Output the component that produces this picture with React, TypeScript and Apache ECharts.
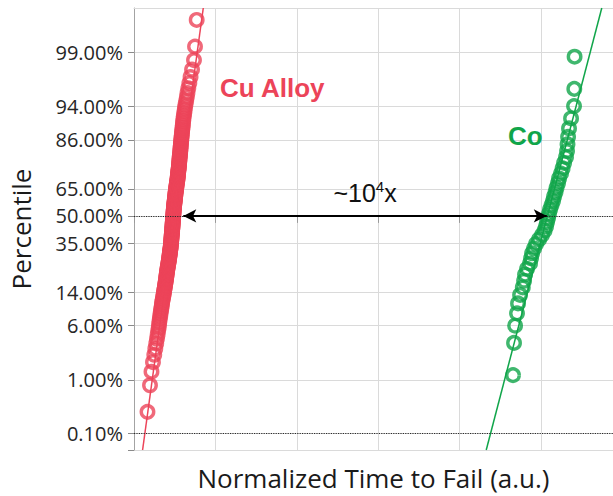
import React, { useEffect, useRef } from "react";
import * as echarts from "echarts";

// Percentile gridlines on the normal-probability axis (in %)
const percentileTicks = [0.1, 1, 6, 14, 35, 50, 65, 86, 94, 99];
// Percentiles marked with dotted reference lines (in %)
const referencePercentiles = [50, 0.1];

// log10(normalized time to fail), sorted ascending, Cu alloy samples
const cuAlloyLogTimes = [
  0.145, 0.172, 0.188, 0.204, 0.218, 0.229, 0.239, 0.247, 0.254, 0.260,
  0.266, 0.270, 0.274, 0.278, 0.283, 0.286, 0.290, 0.294, 0.298, 0.301,
  0.303, 0.308, 0.312, 0.315, 0.318, 0.322, 0.324, 0.327, 0.331, 0.333,
  0.335, 0.338, 0.341, 0.343, 0.345, 0.347, 0.349, 0.351, 0.353, 0.355,
  0.357, 0.359, 0.361, 0.363, 0.366, 0.368, 0.370, 0.372, 0.374, 0.376,
  0.377, 0.380, 0.381, 0.383, 0.384, 0.386, 0.387, 0.389, 0.390, 0.392,
  0.394, 0.395, 0.396, 0.397, 0.398, 0.399, 0.400, 0.401, 0.402, 0.403,
  0.404, 0.405, 0.405, 0.406, 0.408, 0.409, 0.410, 0.410, 0.411, 0.412,
  0.413, 0.413, 0.414, 0.415, 0.416, 0.416, 0.417, 0.418, 0.418, 0.419,
  0.420, 0.422, 0.422, 0.423, 0.424, 0.425, 0.425, 0.426, 0.427, 0.428,
  0.429, 0.430, 0.431, 0.432, 0.433, 0.434, 0.435, 0.437, 0.438, 0.439,
  0.440, 0.441, 0.443, 0.444, 0.445, 0.446, 0.447, 0.448, 0.451, 0.452,
  0.453, 0.455, 0.456, 0.458, 0.459, 0.461, 0.462, 0.465, 0.466, 0.468,
  0.469, 0.470, 0.472, 0.473, 0.474, 0.475, 0.477, 0.478, 0.480, 0.482,
  0.483, 0.484, 0.485, 0.486, 0.487, 0.489, 0.490, 0.491, 0.492, 0.495,
  0.496, 0.497, 0.499, 0.500, 0.501, 0.503, 0.504, 0.505, 0.508, 0.509,
  0.511, 0.513, 0.515, 0.517, 0.519, 0.522, 0.524, 0.526, 0.529, 0.532,
  0.535, 0.540, 0.544, 0.548, 0.554, 0.561, 0.568, 0.575, 0.584, 0.595,
  0.608, 0.624, 0.645, 0.656, 0.674,
];

// log10(normalized time to fail), sorted ascending, Co samples
const coLogTimes = [
  4.075, 4.086, 4.097, 4.118, 4.129, 4.151, 4.180, 4.194, 4.204, 4.226,
  4.258, 4.269, 4.280, 4.301, 4.323, 4.355, 4.387, 4.414, 4.430, 4.441,
  4.452, 4.462, 4.473, 4.489, 4.505, 4.516, 4.532, 4.543, 4.559, 4.570,
  4.591, 4.608, 4.624, 4.645, 4.656, 4.661, 4.667, 4.677, 4.699, 4.731,
  4.734, 4.737,
];

// Lognormal fits: median and sigma, both in log10 units
const cuAlloyFit = { median: 0.438, sigma: 0.104 };
const coFit = { median: 4.445, sigma: 0.198 };

// Ends of the double arrow drawn along the 50% line (log10 units)
const spanArrow = { from: 0.53, to: 4.438 };

// Axis extents: x in log10 time, y in standard normal quantiles
const xRange = { min: 0, max: 5.15, interval: 0.875 };
const zRange = { min: -3.323, max: 2.951 };

const RED = "#EC4459";
const GREEN = "#10A54A";
const GRID = "#dadada";

// Acklam's rational approximation of the inverse standard normal CDF
function normInv(p: number): number {
  const a = [-39.69683028665376, 220.9460984245205, -275.9285104469687, 138.357751867269, -30.66479806614716, 2.506628277459239];
  const b = [-54.47609879822406, 161.5858368580409, -155.6989798598866, 66.80131188771972, -13.28068155288572];
  const c = [-0.007784894002430293, -0.3223964580411365, -2.400758277161838, -2.549732539343734, 4.374664141464968, 2.938163982698783];
  const d = [0.007784695709041462, 0.3224671290700398, 2.445134137142996, 3.754408661907416];
  const pl = 0.02425;
  if (p < pl) {
    const q = Math.sqrt(-2 * Math.log(p));
    return (((((c[0] * q + c[1]) * q + c[2]) * q + c[3]) * q + c[4]) * q + c[5]) /
      ((((d[0] * q + d[1]) * q + d[2]) * q + d[3]) * q + 1);
  }
  if (p <= 1 - pl) {
    const q = p - 0.5;
    const r = q * q;
    return ((((((a[0] * r + a[1]) * r + a[2]) * r + a[3]) * r + a[4]) * r + a[5]) * q) /
      (((((b[0] * r + b[1]) * r + b[2]) * r + b[3]) * r + b[4]) * r + 1);
  }
  const q = Math.sqrt(-2 * Math.log(1 - p));
  return -(((((c[0] * q + c[1]) * q + c[2]) * q + c[3]) * q + c[4]) * q + c[5]) /
    ((((d[0] * q + d[1]) * q + d[2]) * q + d[3]) * q + 1);
}

// Hazen plotting positions: each sorted sample at its median-rank quantile
function probabilityPoints(sortedLogTimes: number[]): number[][] {
  const n = sortedLogTimes.length;
  return sortedLogTimes.map((t, i) => [t, normInv((i + 0.5) / n)]);
}

function fitLine(fit: { median: number; sigma: number }): number[][] {
  return [zRange.min, zRange.max].map((z) => [fit.median + fit.sigma * z, z]);
}

const tickZ = percentileTicks.map((p) => normInv(p / 100));

function percentLabel(z: number): string {
  let best = 0;
  tickZ.forEach((tz, i) => {
    if (Math.abs(tz - z) < Math.abs(tickZ[best] - z)) best = i;
  });
  return percentileTicks[best].toFixed(2) + "%";
}

const ringStyle = (color: string) => ({
  color: "rgba(0,0,0,0)",
  borderColor: color,
  borderWidth: 3.4,
});

export default function App() {
  const ref = useRef<HTMLDivElement>(null);

  useEffect(() => {
    if (!ref.current) return;
    const chart = echarts.init(ref.current, null, { renderer: "svg" });
    const uiFont = "'Open Sans', 'Noto Sans', sans-serif";
    const markFont = "'Liberation Sans', Arial, sans-serif";

    chart.setOption({
      animation: false,
      backgroundColor: "#ffffff",
      grid: { left: 134, top: 8, right: 0, bottom: 46, outerBoundsMode: "none", containLabel: false },
      xAxis: [
        {
          type: "value",
          min: xRange.min,
          max: xRange.max,
          interval: xRange.interval,
          name: "Normalized Time to Fail (a.u.)",
          nameLocation: "middle",
          nameGap: 14,
          nameTextStyle: { fontSize: 26, lineHeight: 27, color: "#1a1a1a", fontFamily: uiFont },
          axisLine: { show: true, lineStyle: { color: GRID, width: 1 } },
          axisTick: { show: true, length: 7, lineStyle: { color: "#9a9a9a", width: 1 } },
          axisLabel: { show: false },
          splitLine: { show: true, lineStyle: { color: GRID, width: 1 } },
        },
        {
          type: "value",
          position: "top",
          min: xRange.min,
          max: xRange.max,
          axisLine: { show: true, lineStyle: { color: GRID, width: 1 } },
          axisTick: { show: false },
          axisLabel: { show: false },
          splitLine: { show: false },
        },
      ],
      yAxis: {
        type: "value",
        min: zRange.min,
        max: zRange.max,
        name: "Percentile",
        nameLocation: "middle",
        nameGap: 100,
        nameTextStyle: { fontSize: 26, color: "#1a1a1a", fontFamily: uiFont },
        axisLine: { show: true, lineStyle: { color: "#a3a3a3", width: 1 } },
        axisTick: {
          show: true,
          length: 6,
          customValues: [zRange.min, ...tickZ],
          lineStyle: { color: "#8a8a8a", width: 1 },
        },
        axisLabel: {
          show: true,
          customValues: tickZ,
          formatter: (v: number) => percentLabel(v),
          fontSize: 20,
          color: "#262626",
          fontFamily: uiFont,
          margin: 11,
          padding: [8, 0, 0, 0],
        },
        splitLine: { show: true, lineStyle: { color: GRID, width: 1 } },
      },
      graphic: [
        {
          type: "text",
          x: 220,
          y: 88,
          z: 10,
          style: {
            text: "Cu Alloy",
            fill: RED,
            font: `bold 26px ${markFont}`,
            textVerticalAlign: "middle",
          },
        },
        {
          type: "text",
          x: 508,
          y: 136,
          z: 10,
          style: {
            text: "Co",
            fill: GREEN,
            font: `bold 26px ${markFont}`,
            textVerticalAlign: "middle",
          },
        },
      ],
      series: [
        {
          name: "Cu Alloy fit",
          type: "line",
          data: fitLine(cuAlloyFit),
          showSymbol: false,
          symbol: "none",
          lineStyle: { color: RED, width: 1.5 },
          silent: true,
          z: 3,
        },
        {
          name: "Co fit",
          type: "line",
          data: fitLine(coFit),
          showSymbol: false,
          symbol: "none",
          lineStyle: { color: GREEN, width: 1.5 },
          silent: true,
          z: 3,
        },
        {
          name: "Cu Alloy",
          type: "scatter",
          data: probabilityPoints(cuAlloyLogTimes),
          symbol: "circle",
          symbolSize: 12.5,
          itemStyle: ringStyle(RED),
          z: 4,
          markLine: {
            silent: true,
            symbol: "none",
            label: { show: false },
            lineStyle: { color: "#2a2a2a", type: "dotted", width: 1.2 },
            data: referencePercentiles.map((p) => ({ yAxis: normInv(p / 100) })),
          },
        },
        {
          name: "Co",
          type: "scatter",
          data: probabilityPoints(coLogTimes),
          symbol: "circle",
          symbolSize: 12.5,
          itemStyle: ringStyle(GREEN),
          z: 4,
          markLine: {
            silent: true,
            symbol: ["arrow", "arrow"],
            symbolSize: [10, 13],
            lineStyle: { color: "#000000", type: "solid", width: 2 },
            label: {
              show: true,
              position: "middle",
              distance: 9,
              formatter: "{b|~10}{s|4}{b|x}",
              rich: {
                b: { fontSize: 25, color: "#111", fontFamily: markFont, lineHeight: 28 },
                s: { fontSize: 15, color: "#111", fontFamily: markFont, verticalAlign: "top", lineHeight: 16 },
              },
            },
            data: [
              [
                { coord: [spanArrow.from, normInv(0.5)] },
                { coord: [spanArrow.to, normInv(0.5)] },
              ],
            ],
          },
        },
      ],
    });

    return () => chart.dispose();
  }, []);

  return (
    <div
      ref={ref}
      style={{ position: "absolute", left: 0, top: 0, width: 613, height: 496, background: "#fff" }}
    />
  );
}
